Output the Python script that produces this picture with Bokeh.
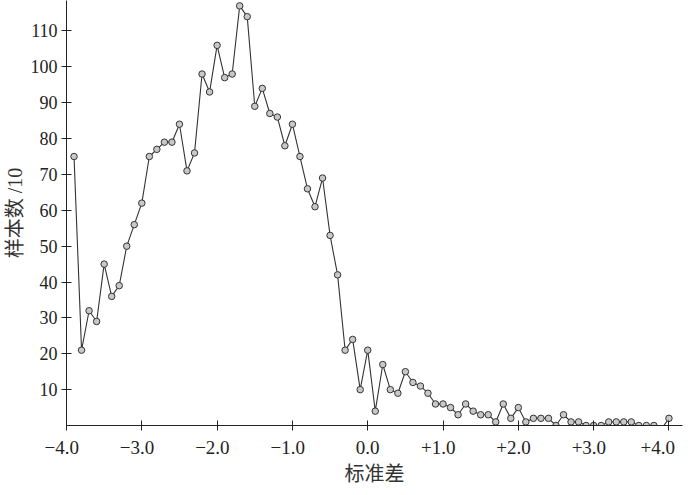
from bokeh.plotting import figure
from bokeh.embed import file_html
from bokeh.resources import INLINE
from bokeh.models import FixedTicker, Range1d

# standard deviation positions
sd = [-3.9, -3.8, -3.7, -3.6, -3.5, -3.4, -3.3, -3.2, -3.1, -3.0,
      -2.9, -2.8, -2.7, -2.6, -2.5, -2.4, -2.3, -2.2, -2.1, -2.0,
      -1.9, -1.8, -1.7, -1.6, -1.5, -1.4, -1.3, -1.2, -1.1, -1.0,
      -0.9, -0.8, -0.7, -0.6, -0.5, -0.4, -0.3, -0.2, -0.1, 0.0,
      0.1, 0.2, 0.3, 0.4, 0.5, 0.6, 0.7, 0.8, 0.9, 1.0,
      1.1, 1.2, 1.3, 1.4, 1.5, 1.6, 1.7, 1.8, 1.9, 2.0,
      2.1, 2.2, 2.3, 2.4, 2.5, 2.6, 2.7, 2.8, 2.9, 3.0,
      3.1, 3.2, 3.3, 3.4, 3.5, 3.6, 3.7, 3.8, 3.9, 4.0]

# sample counts / 10
counts = [75, 21, 32, 29, 45, 36, 39, 50, 56, 62,
          75, 77, 79, 79, 84, 71, 76, 98, 93, 106,
          97, 98, 117, 114, 89, 94, 87, 86, 78, 84,
          75, 66, 61, 69, 53, 42, 21, 24, 10, 21,
          4, 17, 10, 9, 15, 12, 11, 9, 6, 6,
          5, 3, 6, 4, 3, 3, 1, 6, 2, 5,
          1, 2, 2, 2, 0, 3, 1, 1, 0, 0,
          0, 1, 1, 1, 1, 0, 0, 0, -1, 2]

x_ticks = [-4, -3, -2, -1, 0, 1, 2, 3, 4]
x_tick_labels = ["\u22124.0", "\u22123.0", "\u22122.0", "\u22121.0", "0.0",
                 "+1.0", "+2.0", "+3.0", "+4.0"]
y_ticks = [10, 20, 30, 40, 50, 60, 70, 80, 90, 100, 110]

TITLE_FONT = "'Liberation Serif', 'Noto Sans CJK SC'"

p = figure(width=684, height=487, output_backend="svg", toolbar_location=None,
           x_range=Range1d(-4.0, 4.18), y_range=Range1d(0, 118.5),
           min_border_left=59, min_border_right=2, min_border_top=0,
           min_border_bottom=40)
p.outline_line_color = None
p.grid.visible = False
p.background_fill_color = "white"

p.line(sd, counts, line_color="#333333", line_width=1.1)
p.scatter(sd, counts, size=6.5, fill_color="#c8c8c8", line_color="#333333",
          line_width=1)

ax = p.xaxis[0]
ax.ticker = FixedTicker(ticks=x_ticks)
ax.major_label_overrides = {t: (l + "\u2002" if l[0] in "\u2212+" else l)
                            for t, l in zip(x_ticks, x_tick_labels)}
ax.minor_tick_line_color = None
ax.major_tick_in = 5
ax.major_tick_out = 5
ax.axis_line_color = "#222222"
ax.major_tick_line_color = "#222222"
ax.major_label_text_font = "Liberation Serif"
ax.major_label_text_font_size = "19px"
ax.major_label_text_color = "#222222"
ax.major_label_standoff = 6
ax.axis_label = "标准差"
ax.axis_label_text_font = TITLE_FONT
ax.axis_label_text_font_size = "20px"
ax.axis_label_text_font_style = "normal"
ax.axis_label_text_color = "#333333"
ax.axis_label_standoff = 2

ay = p.yaxis[0]
ay.ticker = FixedTicker(ticks=y_ticks)
ay.minor_tick_line_color = None
ay.major_tick_in = 5
ay.major_tick_out = 5
ay.axis_line_color = "#222222"
ay.major_tick_line_color = "#222222"
ay.major_label_text_font = "Liberation Serif"
ay.major_label_text_font_size = "18px"
ay.major_label_text_color = "#222222"
ay.major_label_standoff = 4
ay.axis_label = "样本数 /10"
ay.axis_label_text_font = TITLE_FONT
ay.axis_label_text_font_size = "20px"
ay.axis_label_text_font_style = "normal"
ay.axis_label_text_color = "#333333"
ay.axis_label_standoff = 2

open("out.html", "w").write(file_html(p, INLINE))
